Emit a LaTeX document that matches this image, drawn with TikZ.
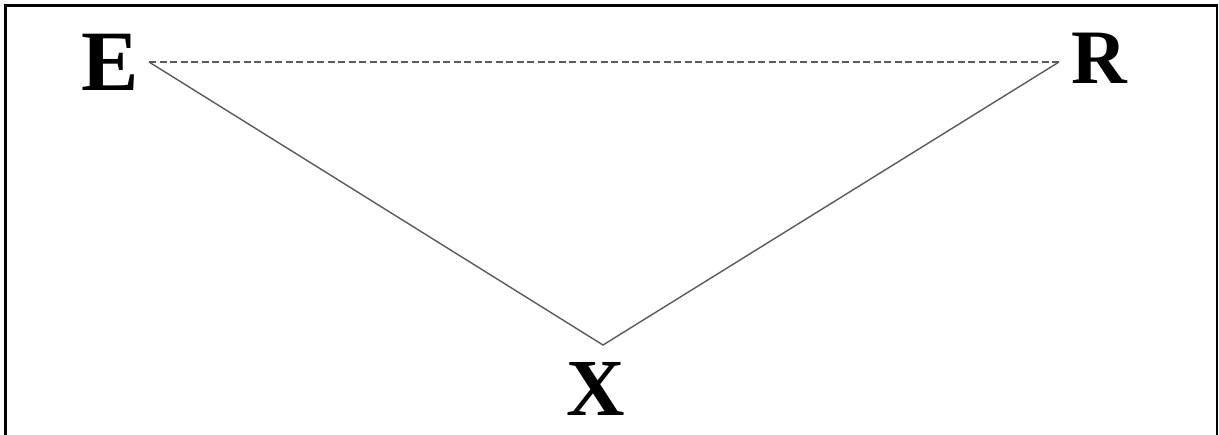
\documentclass[tikz,border=0pt]{standalone}
\usepackage{fontspec}
\setmainfont{Liberation Serif}
\usetikzlibrary{positioning}
\definecolor{edgeGray}{HTML}{5A5A5A}

\begin{document}
\begin{tikzpicture}[
  x=0.5pt, y=-0.5pt,
  lbl/.style={inner sep=0pt, outer sep=0pt},
  edge/.style={draw=edgeGray, line width=0.7pt},
  link/.style={edge, dash pattern=on 3.5pt off 1.75pt}
]
\useasboundingbox (0,0) rectangle (1219,434);
\draw[line width=1.35pt] (5.3,440) -- (5.3,5.3) -- (1217,5.3) -- (1217,440);

\node[lbl, font=\bfseries\fontsize{43}{43}\selectfont] (E) at (110.5,62.5) {E};
\node[lbl, font=\bfseries\fontsize{38.5}{38.5}\selectfont] (R) at (1099,58.5) {R};
\node[lbl, font=\bfseries\fontsize{40.5}{40.5}\selectfont] (X) at (595.5,389) {X};
\coordinate (v) at (603,345);
\coordinate (e) at (149,62);
\coordinate (r) at (1059,62);

\draw[link] (e) -- (r);
\draw[edge] (e) -- (v) -- (r);
\end{tikzpicture}
\end{document}
